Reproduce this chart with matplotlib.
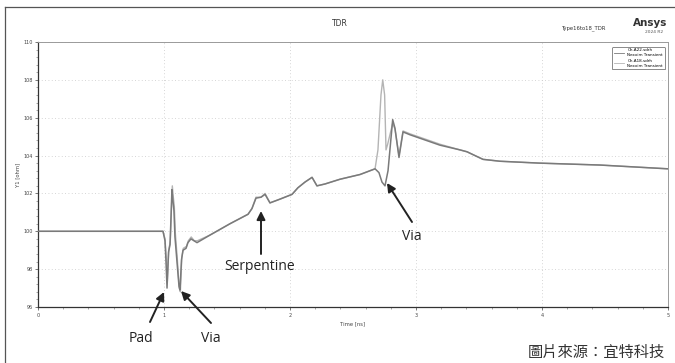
import matplotlib
matplotlib.use("Agg")
import matplotlib.pyplot as plt
from matplotlib.lines import Line2D
from matplotlib.ticker import MultipleLocator

# ---- data ----
time_a = [0.0, 0.992, 1.008, 1.016, 1.024, 1.036, 1.048, 1.056, 1.063, 1.071, 1.079,
          1.087, 1.103, 1.119, 1.127, 1.139, 1.151, 1.175, 1.190, 1.214, 1.238, 1.262,
          1.365, 1.524, 1.667, 1.698, 1.730, 1.770, 1.802, 1.841, 1.921, 2.016, 2.063,
          2.119, 2.175, 2.214, 2.278, 2.397, 2.556, 2.675, 2.706, 2.730, 2.754, 2.778,
          2.815, 2.833, 2.865, 2.897, 2.952, 3.19, 3.349, 3.405, 3.468, 3.532, 3.667,
          3.984, 4.46, 5.0]
ohm_a = [100.0, 100.0, 99.5, 98.4, 97.0, 98.9, 99.3, 100.8, 102.2, 101.6, 101.1,
         99.7, 98.4, 97.1, 96.9, 98.5, 99.0, 99.1, 99.4, 99.6, 99.5, 99.4,
         99.8, 100.4, 100.9, 101.2, 101.75, 101.8, 101.95, 101.5, 101.7, 101.95, 102.3,
         102.6, 102.85, 102.4, 102.5, 102.75, 103.0, 103.3, 103.1, 102.6, 102.4, 103.2,
         105.9, 105.45, 103.9, 105.25, 105.1, 104.55, 104.3, 104.2, 104.0, 103.8, 103.7,
         103.6, 103.5, 103.3]

time_b = [0.0, 0.992, 1.008, 1.018, 1.026, 1.038, 1.050, 1.058, 1.066, 1.074, 1.082,
          1.090, 1.106, 1.121, 1.130, 1.141, 1.153, 1.178, 1.193, 1.216, 1.240, 1.265,
          1.365, 1.524, 1.667, 1.698, 1.730, 1.770, 1.802, 1.841, 1.921, 2.016, 2.063,
          2.119, 2.175, 2.214, 2.278, 2.397, 2.556, 2.675, 2.698, 2.722, 2.736, 2.751,
          2.762, 2.775, 2.815, 2.833, 2.865, 2.897, 2.952, 3.19, 3.349, 3.405, 3.468,
          3.532, 3.667, 3.984, 4.46, 5.0]
ohm_b = [100.0, 100.0, 99.6, 98.6, 97.3, 99.0, 99.5, 101.0, 102.4, 101.8, 101.3,
         99.9, 98.5, 97.0, 96.8, 98.6, 99.1, 99.2, 99.5, 99.7, 99.5, 99.5,
         99.8, 100.4, 100.9, 101.2, 101.8, 101.8, 102.0, 101.5, 101.7, 101.95, 102.3,
         102.6, 102.85, 102.4, 102.5, 102.75, 103.0, 103.3, 104.3, 107.2, 108.0, 107.2,
         104.3, 104.6, 105.7, 105.4, 104.0, 105.3, 105.15, 104.6, 104.3, 104.2, 104.0,
         103.8, 103.7, 103.6, 103.5, 103.3]

series_labels = ["Ch.A22.sdrh\nNexxim Transient", "Ch.A18.sdrh\nNexxim Transient"]
x_ticks = [0, 1, 2, 3, 4, 5]
y_ticks = [96, 98, 100, 102, 104, 106, 108, 110]

# ---- figure ----
fig = plt.figure(figsize=(6.75, 3.63), dpi=100)
fig.patch.set_facecolor("white")
ax = fig.add_axes([38/675, 1-307/363, 630/675, 265/363])

ax.plot(time_b, ohm_b, color="#b4b4b4", lw=1.0, label=series_labels[1], zorder=2)
ax.plot(time_a, ohm_a, color="#7a7a7a", lw=1.1, label=series_labels[0], zorder=3)

ax.set_xlim(0, 5)
ax.set_ylim(96, 110)
ax.set_xticks(x_ticks)
ax.set_yticks(y_ticks)
ax.xaxis.set_minor_locator(MultipleLocator(0.2))
ax.yaxis.set_minor_locator(MultipleLocator(0.4))
ax.tick_params(axis="both", which="major", labelsize=3.5, length=2.5, width=0.5,
               colors="#444444", pad=1.5)
ax.tick_params(axis="both", which="minor", length=1.5, width=0.4, colors="#666666")
ax.grid(True, which="major", linestyle=(0, (1, 3)), color="#c8c8c8", lw=0.6)
for s in ["left", "bottom"]:
    ax.spines[s].set_color("#333333")
    ax.spines[s].set_linewidth(0.9)
for s in ["top", "right"]:
    ax.spines[s].set_color("#9a9a9a")
    ax.spines[s].set_linewidth(0.7)

ax.set_xlabel("Time [ns]", fontsize=3.8, color="#444444", labelpad=3)
ax.set_ylabel("Y1 [ohm]", fontsize=3.8, color="#444444", labelpad=2)

handles = [Line2D([], [], color="#7a7a7a", lw=0.6), Line2D([], [], color="#b4b4b4", lw=0.6)]
leg = ax.legend(handles, series_labels, loc="upper right", fontsize=3.0,
                handlelength=2.5, frameon=True, fancybox=True, edgecolor="#555555",
                borderpad=0.4, labelspacing=0.5, bbox_to_anchor=(0.998, 0.99))
leg.get_frame().set_linewidth(0.6)

# titles
fig.text(340/675, 1-24/363, "TDR", fontsize=5.5, ha="center", va="center", color="#333333")
fig.text(606/675, 1-28/363, "Type16to18_TDR", fontsize=3.8, ha="right", va="center", color="#333333")
fig.text(650/675, 1-23/363, "Ansys", fontsize=7.5, fontweight="bold", ha="center", va="center", color="#333333")
fig.text(663/675, 1-32/363, "2024 R2", fontsize=3.2, ha="right", va="center", color="#555555")

# frame lines
fig.add_artist(Line2D([5/675, 5/675], [0, 1-7/363], color="#555555", lw=0.9, transform=fig.transFigure))
fig.add_artist(Line2D([5/675, 1], [1-7/363, 1-7/363], color="#555555", lw=0.9, transform=fig.transFigure))

# annotations
arrow = dict(arrowstyle="-|>,head_length=0.5,head_width=0.25", color="#222222", lw=1.4,
             shrinkA=0, shrinkB=0)
def px(x, y):
    return (x/675, 1-y/363)

ax.annotate("", xy=px(164, 292), xycoords="figure fraction", xytext=px(150, 322),
            textcoords="figure fraction", arrowprops=arrow, annotation_clip=False)
ax.annotate("", xy=px(181, 291), xycoords="figure fraction", xytext=px(211, 323),
            textcoords="figure fraction", arrowprops=arrow, annotation_clip=False)
ax.annotate("", xy=px(261, 211), xycoords="figure fraction", xytext=px(261, 254),
            textcoords="figure fraction", arrowprops=arrow, annotation_clip=False)
ax.annotate("", xy=px(387, 183), xycoords="figure fraction", xytext=px(412, 222),
            textcoords="figure fraction", arrowprops=arrow, annotation_clip=False)

tf = dict(fontsize=10, color="#222222", family="Open Sans", ha="center", va="center")
fig.text(*px(141, 338), "Pad", **tf)
fig.text(*px(211, 338), "Via", **tf)
fig.text(*px(260, 267), "Serpentine", **tf)
fig.text(*px(412, 236), "Via", **tf)

fig.text(*px(596, 352), "圖片來源：宜特科技", fontsize=11, color="#333333",
         family=["Noto Sans CJK TC", "DejaVu Sans"], ha="center", va="center")

fig.savefig("out.png", dpi=100, facecolor="white")
